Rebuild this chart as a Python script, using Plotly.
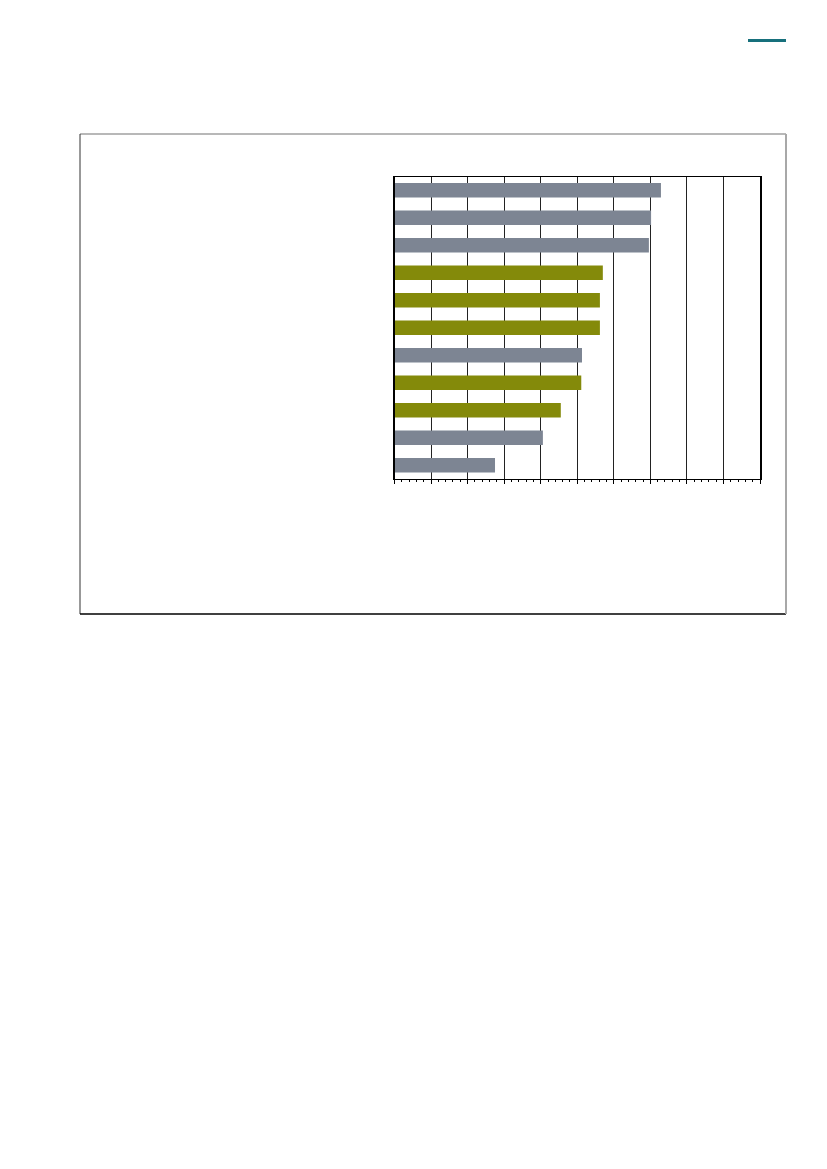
import plotly.graph_objects as go

# bar data, top to bottom (no labels shown in the source)
categories = ["A", "B", "C", "D", "E", "F", "G", "H", "I", "J", "K"]
values = [7.29, 7.02, 6.96, 5.70, 5.62, 5.62, 5.13, 5.11, 4.55, 4.06, 2.75]
groups = ["g", "g", "g", "o", "o", "o", "g", "o", "o", "g", "g"]

GREY = "#7d8593"
OLIVE = "#848a0a"
colors = [GREY if g == "g" else OLIVE for g in groups]

# page body has an 8px margin, so the figure is drawn 8px in from the corner
OFF = 8
W, H = 827 - 2 * OFF, 1169 - 2 * OFF

def px_x(x):
    return (x - OFF) / W

def px_y(y):
    return 1 - (y - OFF) / H

fig = go.Figure()
fig.add_trace(go.Bar(
    x=values,
    y=categories,
    orientation="h",
    marker=dict(color=colors, line=dict(width=0)),
    width=0.52,
    hoverinfo="x",
))

fig.update_layout(
    width=W,
    height=H,
    margin=dict(l=0, r=0, t=0, b=0),
    paper_bgcolor="white",
    plot_bgcolor="white",
    showlegend=False,
    xaxis=dict(
        domain=[px_x(394.5), px_x(760)],
        range=[0, 10],
        dtick=1,
        showgrid=True,
        gridcolor="#222222",
        gridwidth=1,
        showline=True,
        linecolor="black",
        linewidth=1,
        mirror=True,
        ticks="outside",
        ticklen=4,
        tickcolor="black",
        showticklabels=False,
        zeroline=False,
        minor=dict(ticks="outside", ticklen=2, dtick=0.2, tickcolor="black", showgrid=False),
    ),
    yaxis=dict(
        domain=[px_y(479), px_y(176.5)],
        autorange="reversed",
        showline=True,
        linecolor="black",
        linewidth=1.5,
        mirror=True,
        showticklabels=False,
        ticks="",
        showgrid=False,
    ),
)

# outer frame round the chart
frame = [
    (80, 134, 786, 134, "#a0a0a0", 1.5),
    (80, 134, 80, 614, "#333333", 1),
    (80, 614, 786, 614, "black", 1.5),
    (786, 134, 786, 614, "#a8a8a8", 2),
]
for x0, y0, x1, y1, c, w in frame:
    fig.add_shape(type="line", xref="paper", yref="paper",
                  x0=px_x(x0), y0=px_y(y0), x1=px_x(x1), y1=px_y(y1),
                  line=dict(color=c, width=w))

# teal header mark at top right
fig.add_shape(type="line", xref="paper", yref="paper",
              x0=px_x(748), y0=px_y(40.5), x1=px_x(786), y1=px_y(40.5),
              line=dict(color="#17707c", width=3))

fig.write_html("out.html")
